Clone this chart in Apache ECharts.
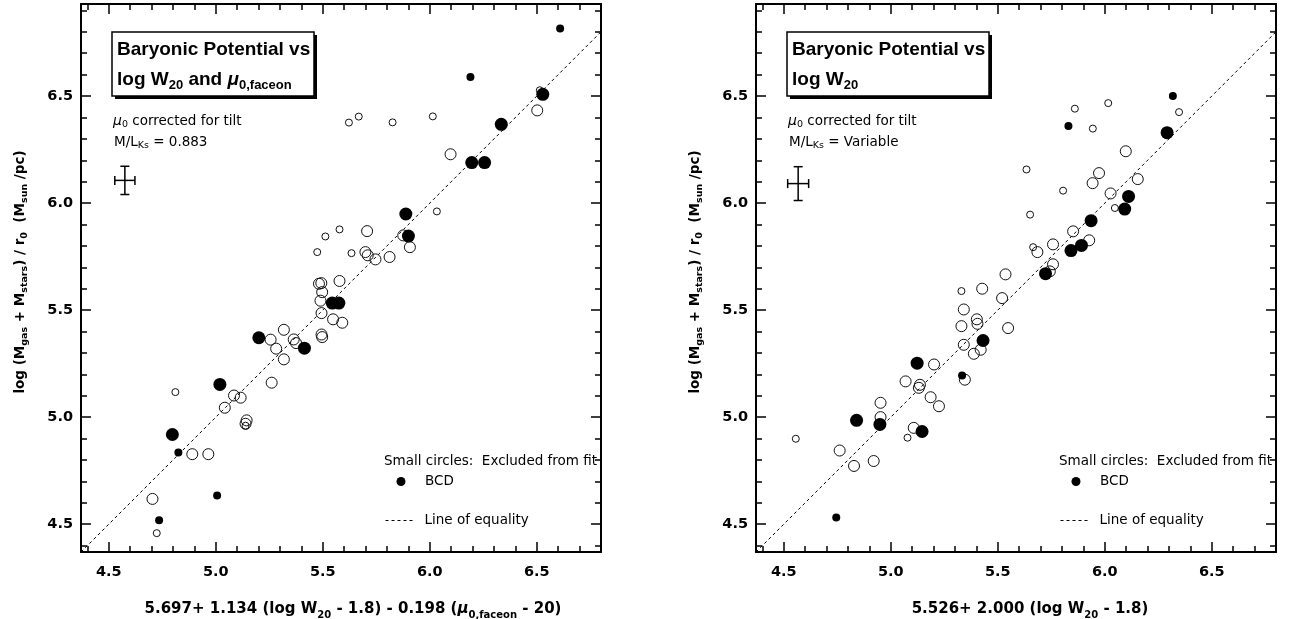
<!DOCTYPE html>
<html><head><meta charset="utf-8">
<script src="https://cdn.jsdelivr.net/npm/echarts@6/dist/echarts.min.js"></script>
<style>html,body{margin:0;padding:0;background:#fff}#c{width:1307px;height:619px}</style>
</head><body><div id="c"></div>
<script>
// ---------------- data ----------------
const xMin = 4.37, xMax = 6.80, yMin = 4.37, yMax = 6.93;
const majorTicks = [4.5, 5.0, 5.5, 6.0, 6.5];
const xMinorTicks = [4.4,4.5,4.6,4.7,4.8,4.9,5.0,5.1,5.2,5.3,5.4,5.5,5.6,5.7,5.8,5.9,6.0,6.1,6.2,6.3,6.4,6.5,6.6,6.7];
const yMinorTicks = [4.4,4.5,4.6,4.7,4.8,4.9,5.0,5.1,5.2,5.3,5.4,5.5,5.6,5.7,5.8,5.9,6.0,6.1,6.2,6.3,6.4,6.5,6.6,6.7,6.8,6.9];
const equalityLine = [[4.37, 4.37], [6.93, 6.93]];

// left panel: log W20 and mu0,faceon
const leftBcdBig = [[6.528,6.508],[6.334,6.368],[6.196,6.189],[6.256,6.189],[5.888,5.949],[5.900,5.846],
  [5.544,5.533],[5.575,5.533],[5.201,5.371],[5.414,5.322],[5.019,5.153],[4.797,4.919]];
const leftBcdSmall = [[6.609,6.816],[6.190,6.589],[4.825,4.835],[5.006,4.634],[4.735,4.518]];
const leftOpenBig = [[6.502,6.433],[6.097,6.228],[5.707,5.869],[5.876,5.849],[5.907,5.794],[5.699,5.771],
  [5.710,5.756],[5.746,5.737],[5.812,5.748],[5.578,5.636],[5.548,5.457],[5.591,5.441],[5.482,5.623],
  [5.493,5.626],[5.497,5.584],[5.489,5.544],[5.494,5.486],[5.494,5.386],[5.497,5.374],[5.318,5.408],
  [5.256,5.362],[5.282,5.320],[5.318,5.270],[5.364,5.363],[5.375,5.346],[5.261,5.161],[5.085,5.101],
  [5.116,5.091],[5.042,5.044],[5.144,4.985],[5.139,4.969],[4.890,4.827],[4.965,4.827],[4.704,4.618]];
const leftOpenSmall = [[6.514,6.527],[5.622,6.376],[5.668,6.404],[5.826,6.377],[6.014,6.405],[6.033,5.961],
  [5.578,5.877],[5.634,5.766],[5.474,5.771],[5.512,5.844],[4.811,5.117],[4.724,4.458],[5.139,4.960]];
const leftErrorBar = [[4.575, 6.106, 0.047, 0.066]];

// right panel: log W20 only
const rightBcdBig = [[6.291,6.329],[6.111,6.031],[6.093,5.972],[5.936,5.918],[5.891,5.802],[5.842,5.778],
  [5.723,5.670],[5.431,5.358],[5.123,5.252],[4.840,4.985],[4.949,4.966],[5.146,4.933]];
const rightBcdSmall = [[6.318,6.500],[5.830,6.360],[5.333,5.195],[4.745,4.531]];
const rightOpenBig = [[6.098,6.242],[5.973,6.140],[5.943,6.093],[6.154,6.112],[6.027,6.045],[5.852,5.868],
  [5.758,5.807],[5.927,5.826],[5.685,5.771],[5.758,5.714],[5.743,5.681],[5.536,5.667],[5.520,5.556],
  [5.548,5.416],[5.427,5.600],[5.341,5.503],[5.402,5.457],[5.405,5.436],[5.330,5.425],[5.341,5.338],
  [5.388,5.296],[5.420,5.315],[5.202,5.246],[5.069,5.167],[5.136,5.151],[5.131,5.137],[5.346,5.175],
  [5.186,5.093],[5.225,5.051],[4.952,5.067],[4.952,5.000],[5.107,4.950],[4.761,4.844],[4.828,4.772],[4.920,4.795]];
const rightOpenSmall = [[5.860,6.441],[6.016,6.467],[6.347,6.425],[5.944,6.348],[5.634,6.157],[5.805,6.058],
  [6.047,5.977],[5.651,5.946],[5.665,5.794],[5.330,5.589],[5.078,4.904],[4.556,4.899]];
const rightErrorBar = [[4.567, 6.091, 0.049, 0.079]];

const leftXTitle = '{b|5.697+ 1.134 (log W}{s|20}{b| - 1.8) - 0.198 (}{m|μ}{s|0,faceon}{b| - 20)}';
const rightXTitle = '{b|5.526+ 2.000 (log W}{s|20}{b| - 1.8)}';
const yTitle = '{b|log (M}{s|gas}{b| + M}{s|stars}{b|) / r}{s|0}{b|  (M}{s|sun}{b| /pc)}';
const leftBoxLines = ['{b|Baryonic Potential vs}', '{b|log W}{s|20}{b| and }{m|μ}{s|0,faceon}'];
const rightBoxLines = ['{b|Baryonic Potential vs}', '{b|log W}{s|20}'];
const leftNotes = ['{m|μ}{s|0}{r| corrected for tilt}', '{r|M/L}{s|Ks}{r| = 0.883}'];
const rightNotes = ['{m|μ}{s|0}{r| corrected for tilt}', '{r|M/L}{s|Ks}{r| = Variable}'];
const legendTexts = ['Small circles:  Excluded from fit', 'BCD', 'Line of equality'];

// ---------------- styling ----------------
const FONT = 'DejaVu Sans';
const TFONT = 'Liberation Sans';
const grids = [
  {left: 81, top: 4, width: 520, height: 548},
  {left: 756, top: 4, width: 520, height: 548}
];

function axisPair(dim, g, pos, withLabels, minorVals) {
  const common = {gridIndex: g, type: 'value', position: pos,
    min: dim === 'x' ? xMin : yMin, max: dim === 'x' ? xMax : yMax,
    splitLine: {show: false}, axisPointer: {show: false}};
  const major = Object.assign({}, common, {
    axisLine: {show: true, onZero: false, lineStyle: {color: '#000', width: 2}},
    axisTick: {show: true, inside: true, length: 10, customValues: majorTicks, lineStyle: {color: '#000', width: 1.5}},
    axisLabel: withLabels ? {show: true, customValues: majorTicks, formatter: v => Number(v).toFixed(1),
      margin: dim === 'x' ? 13 : 8, color: '#000', fontFamily: FONT, fontWeight: 'bold', fontSize: 14.5} : {show: false}
  });
  const minor = Object.assign({}, common, {
    axisLine: {show: false, onZero: false},
    axisTick: {show: true, inside: true, length: 6, customValues: minorVals, lineStyle: {color: '#000', width: 1.5}},
    axisLabel: {show: false}
  });
  return [major, minor];
}

const xAxes = [], yAxes = [];
[0, 1].forEach(g => {
  xAxes.push(...axisPair('x', g, 'bottom', true, xMinorTicks), ...axisPair('x', g, 'top', false, xMinorTicks));
  yAxes.push(...axisPair('y', g, 'left', true, yMinorTicks), ...axisPair('y', g, 'right', false, yMinorTicks));
});

function errRender(params, api) {
  const x = api.value(0), y = api.value(1), dx = api.value(2), dy = api.value(3);
  const c = api.coord([x, y]);
  const l = api.coord([x - dx, y]), r = api.coord([x + dx, y]);
  const b = api.coord([x, y - dy]), t = api.coord([x, y + dy]);
  const cap = 4.5;
  const segs = [
    [l[0], c[1], r[0], c[1]], [c[0], t[1], c[0], b[1]],
    [l[0], c[1] - cap, l[0], c[1] + cap], [r[0], c[1] - cap, r[0], c[1] + cap],
    [c[0] - cap, t[1], c[0] + cap, t[1]], [c[0] - cap, b[1], c[0] + cap, b[1]]
  ];
  return {type: 'group', children: segs.map(s => ({type: 'line',
    shape: {x1: s[0], y1: s[1], x2: s[2], y2: s[3]}, style: {stroke: '#000', lineWidth: 1.5}}))};
}

function panelSeries(p, openBig, openSmall, bcdBig, bcdSmall, err) {
  const xi = p * 4, yi = p * 4;
  const open = {color: 'rgba(0,0,0,0)', borderColor: '#111', borderWidth: 1, opacity: 1};
  const full = {color: '#000', opacity: 1};
  return [
    {type: 'line', xAxisIndex: xi, yAxisIndex: yi, data: equalityLine, showSymbol: false, silent: true,
      lineStyle: {color: '#000', width: 1, type: [3, 3]}, clip: true, z: 1},
    {type: 'scatter', xAxisIndex: xi, yAxisIndex: yi, data: openBig, symbol: 'circle', symbolSize: 11, itemStyle: open, z: 2},
    {type: 'scatter', xAxisIndex: xi, yAxisIndex: yi, data: openSmall, symbol: 'circle', symbolSize: 7, itemStyle: open, z: 2},
    {type: 'scatter', xAxisIndex: xi, yAxisIndex: yi, data: bcdBig, symbol: 'circle', symbolSize: 13, itemStyle: full, z: 3},
    {type: 'scatter', xAxisIndex: xi, yAxisIndex: yi, data: bcdSmall, symbol: 'circle', symbolSize: 8, itemStyle: full, z: 3},
    {type: 'custom', xAxisIndex: xi, yAxisIndex: yi, data: err, renderItem: errRender, z: 3}
  ];
}

const titleRich = {
  b: {fontFamily: TFONT, fontWeight: 'bold', fontSize: 19, fill: '#000', lineHeight: 24, verticalAlign: 'middle'},
  s: {fontFamily: TFONT, fontWeight: 'bold', fontSize: 13, fill: '#000', lineHeight: 13, verticalAlign: 'bottom'},
  m: {fontFamily: TFONT, fontWeight: 'bold', fontStyle: 'italic', fontSize: 19, fill: '#000', lineHeight: 24, verticalAlign: 'middle'}
};
const noteRich = {
  r: {fontFamily: FONT, fontSize: 13.5, fill: '#000', lineHeight: 18, verticalAlign: 'middle'},
  s: {fontFamily: FONT, fontSize: 9.5, fill: '#000', lineHeight: 9, verticalAlign: 'bottom'},
  m: {fontFamily: FONT, fontStyle: 'italic', fontSize: 14, fill: '#000', lineHeight: 18, verticalAlign: 'middle'}
};
const axisRich = {
  b: {fontFamily: FONT, fontWeight: 'bold', fontSize: 15, fill: '#000', lineHeight: 22, verticalAlign: 'middle'},
  s: {fontFamily: FONT, fontWeight: 'bold', fontSize: 10, fill: '#000', lineHeight: 10, verticalAlign: 'bottom'},
  m: {fontFamily: FONT, fontWeight: 'bold', fontStyle: 'italic', fontSize: 15, fill: '#000', lineHeight: 22, verticalAlign: 'middle'}
};
const yAxisRich = {
  b: {fontFamily: FONT, fontWeight: 'bold', fontSize: 13.5, fill: '#000', lineHeight: 20, verticalAlign: 'middle'},
  s: {fontFamily: FONT, fontWeight: 'bold', fontSize: 9.5, fill: '#000', lineHeight: 9.5, verticalAlign: 'bottom'}
};

function panelGraphics(dx, boxLines, notes, xTitle, xTitleX, yTitleX) {
  const els = [];
  els.push({type: 'rect', shape: {x: 112 + dx + 3, y: 32 + 3, width: 202, height: 64}, style: {fill: '#000'}, z: 10});
  els.push({type: 'rect', shape: {x: 112 + dx, y: 32, width: 202, height: 64}, style: {fill: '#fff', stroke: '#000', lineWidth: 1.5}, z: 11});
  els.push({type: 'text', x: 117 + dx, y: 50, z: 12, style: {text: boxLines[0], rich: titleRich, align: 'left', verticalAlign: 'middle'}});
  els.push({type: 'text', x: 117 + dx, y: 80, z: 12, style: {text: boxLines[1], rich: titleRich, align: 'left', verticalAlign: 'middle'}});
  els.push({type: 'text', x: 113 + dx, y: 121, z: 12, style: {text: notes[0], rich: noteRich, align: 'left', verticalAlign: 'middle'}});
  els.push({type: 'text', x: 114 + dx, y: 142, z: 12, style: {text: notes[1], rich: noteRich, align: 'left', verticalAlign: 'middle'}});
  const lf = {fontFamily: FONT, fontSize: 13.5, fill: '#000', align: 'left', verticalAlign: 'middle'};
  els.push({type: 'text', x: 384 + dx, y: 461, z: 12, style: Object.assign({text: legendTexts[0]}, lf)});
  els.push({type: 'circle', shape: {cx: 401 + dx, cy: 481.5, r: 4.5}, style: {fill: '#000'}, z: 12});
  els.push({type: 'text', x: 425 + dx, y: 481.5, z: 12, style: Object.assign({text: legendTexts[1]}, lf)});
  els.push({type: 'line', shape: {x1: 385.5 + dx, y1: 520.5, x2: 414 + dx, y2: 520.5}, style: {stroke: '#000', lineWidth: 1, lineDash: [3, 3]}, z: 12});
  els.push({type: 'text', x: 424.5 + dx, y: 520.5, z: 12, style: Object.assign({text: legendTexts[2]}, lf)});
  els.push({type: 'text', x: xTitleX, y: 609, z: 12, style: {text: xTitle, rich: axisRich, align: 'center', verticalAlign: 'middle'}});
  els.push({type: 'text', x: yTitleX, y: 272, rotation: Math.PI / 2, z: 12, style: {text: yTitle, rich: yAxisRich, align: 'center', verticalAlign: 'middle'}});
  return els;
}

const chart = echarts.init(document.getElementById('c'), null, {renderer: 'canvas'});
chart.setOption({
  animation: false,
  backgroundColor: '#fff',
  grid: grids,
  xAxis: xAxes,
  yAxis: yAxes,
  series: [
    ...panelSeries(0, leftOpenBig, leftOpenSmall, leftBcdBig, leftBcdSmall, leftErrorBar),
    ...panelSeries(1, rightOpenBig, rightOpenSmall, rightBcdBig, rightBcdSmall, rightErrorBar)
  ],
  graphic: [
    ...panelGraphics(0, leftBoxLines, leftNotes, leftXTitle, 353, 20),
    ...panelGraphics(675, rightBoxLines, rightNotes, rightXTitle, 1030, 695)
  ]
});
</script></body></html>
